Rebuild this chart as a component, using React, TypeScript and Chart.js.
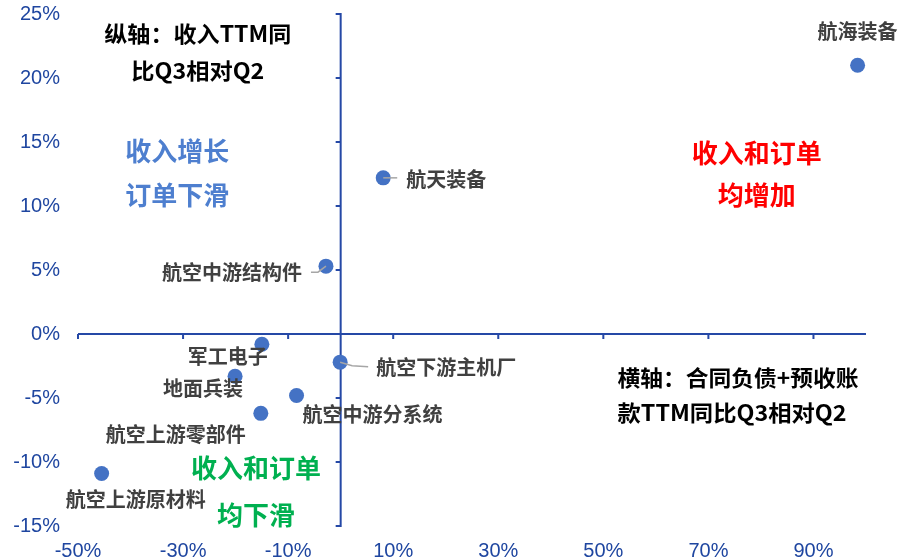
import React, { useEffect, useRef } from "react";
import { Chart, registerables } from "chart.js";

Chart.register(...registerables);

// ---- data ----
const sectors = [
  "航海装备",
  "航天装备",
  "航空中游结构件",
  "军工电子",
  "航空下游主机厂",
  "地面兵装",
  "航空中游分系统",
  "航空上游零部件",
  "航空上游原材料",
];
// x: 合同负债+预收账款 TTM 同比 Q3 相对 Q2 (%)
const contractYoYChange = [98.4, 8.1, -2.8, -15.0, -0.1, -20.1, -8.4, -15.2, -45.5];
// y: 收入 TTM 同比 Q3 相对 Q2 (%)
const revenueYoYChange = [21.0, 12.2, 5.3, -0.8, -2.2, -3.3, -4.8, -6.2, -10.9];
const xTickValues = [-50, -30, -10, 10, 30, 50, 70, 90];
const yTickValues = [-15, -10, -5, 0, 5, 10, 15, 20, 25];

// ---- styles ----
const AXIS_COLOR = "#2548A6";
const TICK_COLOR = "#1F46A0";
const POINT_COLOR = "#4472C4";
const LABEL_COLOR = "#404040";
const LEADER_COLOR = "#A6A6A6";
const CJK = '"Noto Sans CJK SC", "Noto Sans", sans-serif';

type Place = { dx: number; dy: number; align: CanvasTextAlign; leader?: number[][] };
const labelPlaces: Place[] = [
  { dx: 0, dy: -34, align: "center" },
  { dx: 23, dy: 2, align: "left", leader: [[0, 0], [14, 0]] },
  { dx: -24, dy: 6, align: "right", leader: [[-15, 6], [-8, 6], [0, 0]] },
  { dx: -34, dy: 12, align: "center" },
  { dx: 36, dy: 5, align: "left", leader: [[0, 0], [12, 3.5], [28, 4.5]] },
  { dx: -32, dy: 12, align: "center" },
  { dx: 6, dy: 19, align: "left" },
  { dx: -15, dy: 21, align: "right" },
  { dx: 34, dy: 26, align: "center" },
];

type Note = { text: string; x: number; y: number; align: CanvasTextAlign; size: number; color: string; width?: number };
const notes: Note[] = [
  { text: "纵轴：收入TTM同", x: -27.2, y: 23.5, align: "center", size: 22, color: "#000000", width: 187 },
  { text: "比Q3相对Q2", x: -27.2, y: 20.6, align: "center", size: 22, color: "#000000", width: 133 },
  { text: "收入增长", x: -31.1, y: 14.3, align: "center", size: 26, color: "#4E7FCF" },
  { text: "订单下滑", x: -31.1, y: 10.85, align: "center", size: 26, color: "#4E7FCF" },
  { text: "收入和订单", x: 79.2, y: 14.15, align: "center", size: 26, color: "#FF0000" },
  { text: "均增加", x: 79.2, y: 10.85, align: "center", size: 26, color: "#FF0000" },
  { text: "收入和订单", x: -16.1, y: -10.5, align: "center", size: 26, color: "#00B050" },
  { text: "均下滑", x: -16.1, y: -14.15, align: "center", size: 26, color: "#00B050" },
  { text: "横轴：合同负债+预收账", x: 52.7, y: -3.38, align: "left", size: 22, color: "#000000", width: 241 },
  { text: "款TTM同比Q3相对Q2", x: 52.7, y: -6.15, align: "left", size: 22, color: "#000000", width: 229 },
];

function drawFit(ctx: CanvasRenderingContext2D, text: string, x: number, y: number, align: CanvasTextAlign, width?: number) {
  const w = ctx.measureText(text).width;
  const sx = width ? width / w : 1;
  ctx.save();
  ctx.translate(x, y);
  ctx.scale(sx, 1);
  ctx.textAlign = align;
  ctx.textBaseline = "middle";
  ctx.fillText(text, 0, 0);
  ctx.restore();
}

const overlayPlugin = {
  id: "overlay",
  beforeDatasetsDraw(chart: any) {
    const { ctx, chartArea: a, scales } = chart;
    const xs = scales.x;
    const ys = scales.y;
    const x0 = xs.getPixelForValue(0);
    const y0 = ys.getPixelForValue(0);
    ctx.save();
    ctx.strokeStyle = AXIS_COLOR;
    ctx.lineWidth = 2;
    ctx.beginPath();
    ctx.moveTo(a.left, y0);
    ctx.lineTo(a.right, y0);
    xTickValues.forEach((v) => {
      const px = xs.getPixelForValue(v);
      ctx.moveTo(px, y0);
      ctx.lineTo(px, y0 + 5);
    });
    ctx.moveTo(x0, a.top);
    ctx.lineTo(x0, a.bottom);
    yTickValues.forEach((v) => {
      const py = ys.getPixelForValue(v);
      ctx.moveTo(x0 + 1, py);
      ctx.lineTo(x0 - 5, py);
    });
    ctx.stroke();
    ctx.restore();
  },
  afterDatasetsDraw(chart: any) {
    const { ctx, scales } = chart;
    const xs = scales.x;
    const ys = scales.y;
    const meta = chart.getDatasetMeta(0);
    ctx.save();
    meta.data.forEach((pt: any, i: number) => {
      const p = labelPlaces[i];
      if (p.leader) {
        ctx.strokeStyle = LEADER_COLOR;
        ctx.lineWidth = 1.5;
        ctx.beginPath();
        p.leader.forEach(([lx, ly], k) => {
          if (k === 0) ctx.moveTo(pt.x + lx, pt.y + ly);
          else ctx.lineTo(pt.x + lx, pt.y + ly);
        });
        ctx.stroke();
      }
      ctx.fillStyle = LABEL_COLOR;
      ctx.font = `bold 20px ${CJK}`;
      drawFit(ctx, sectors[i], pt.x + p.dx, pt.y + p.dy, p.align);
    });
    notes.forEach((n) => {
      ctx.fillStyle = n.color;
      ctx.font = `bold ${n.size}px ${CJK}`;
      drawFit(ctx, n.text, xs.getPixelForValue(n.x), ys.getPixelForValue(n.y), n.align, n.width);
    });
    ctx.restore();
  },
};

export default function App() {
  const ref = useRef<HTMLCanvasElement>(null);
  useEffect(() => {
    const canvas = ref.current;
    if (!canvas) return;
    const chart = new Chart(canvas, {
      type: "scatter",
      data: {
        datasets: [
          {
            data: contractYoYChange.map((v, i) => ({ x: v, y: revenueYoYChange[i] })),
            backgroundColor: POINT_COLOR,
            borderWidth: 0,
            pointRadius: 7.5,
            clip: false as any,
          },
        ],
      },
      options: {
        responsive: false,
        animation: false,
        devicePixelRatio: 1,
        layout: { padding: { top: 14, right: 45, left: 0, bottom: 0 } },
        plugins: { legend: { display: false }, tooltip: { enabled: false } },
        scales: {
          x: {
            type: "linear",
            position: "bottom",
            min: -50,
            max: 100,
            afterBuildTicks: (s: any) => {
              s.ticks = xTickValues.map((v) => ({ value: v }));
            },
            afterFit: (s: any) => {
              s.height = 34;
              s.paddingLeft = 0;
              s.paddingRight = 0;
            },
            grid: { display: false, drawTicks: false },
            border: { display: false },
            ticks: {
              color: TICK_COLOR,
              font: { family: '"Liberation Sans", Arial, sans-serif', size: 20 },
              padding: 13,
              autoSkip: false,
              maxRotation: 0,
              callback: (v: any) => `${v}%`,
            },
          },
          y: {
            type: "linear",
            position: "left",
            min: -15,
            max: 25,
            afterBuildTicks: (s: any) => {
              s.ticks = yTickValues.map((v) => ({ value: v }));
            },
            afterFit: (s: any) => {
              s.width = 78;
              s.paddingTop = 0;
              s.paddingBottom = 0;
            },
            grid: { display: false, drawTicks: false },
            border: { display: false },
            ticks: {
              color: TICK_COLOR,
              font: { family: '"Liberation Sans", Arial, sans-serif', size: 20 },
              padding: 18,
              autoSkip: false,
              callback: (v: any) => `${v}%`,
            },
          },
        },
      },
      plugins: [overlayPlugin],
    } as any);
    return () => chart.destroy();
  }, []);
  return (
    <div style={{ position: "fixed", left: 0, top: 0, width: 911, height: 560, background: "#fff" }}>
      <canvas ref={ref} width={911} height={560} style={{ width: 911, height: 560, display: "block" }} />
    </div>
  );
}
